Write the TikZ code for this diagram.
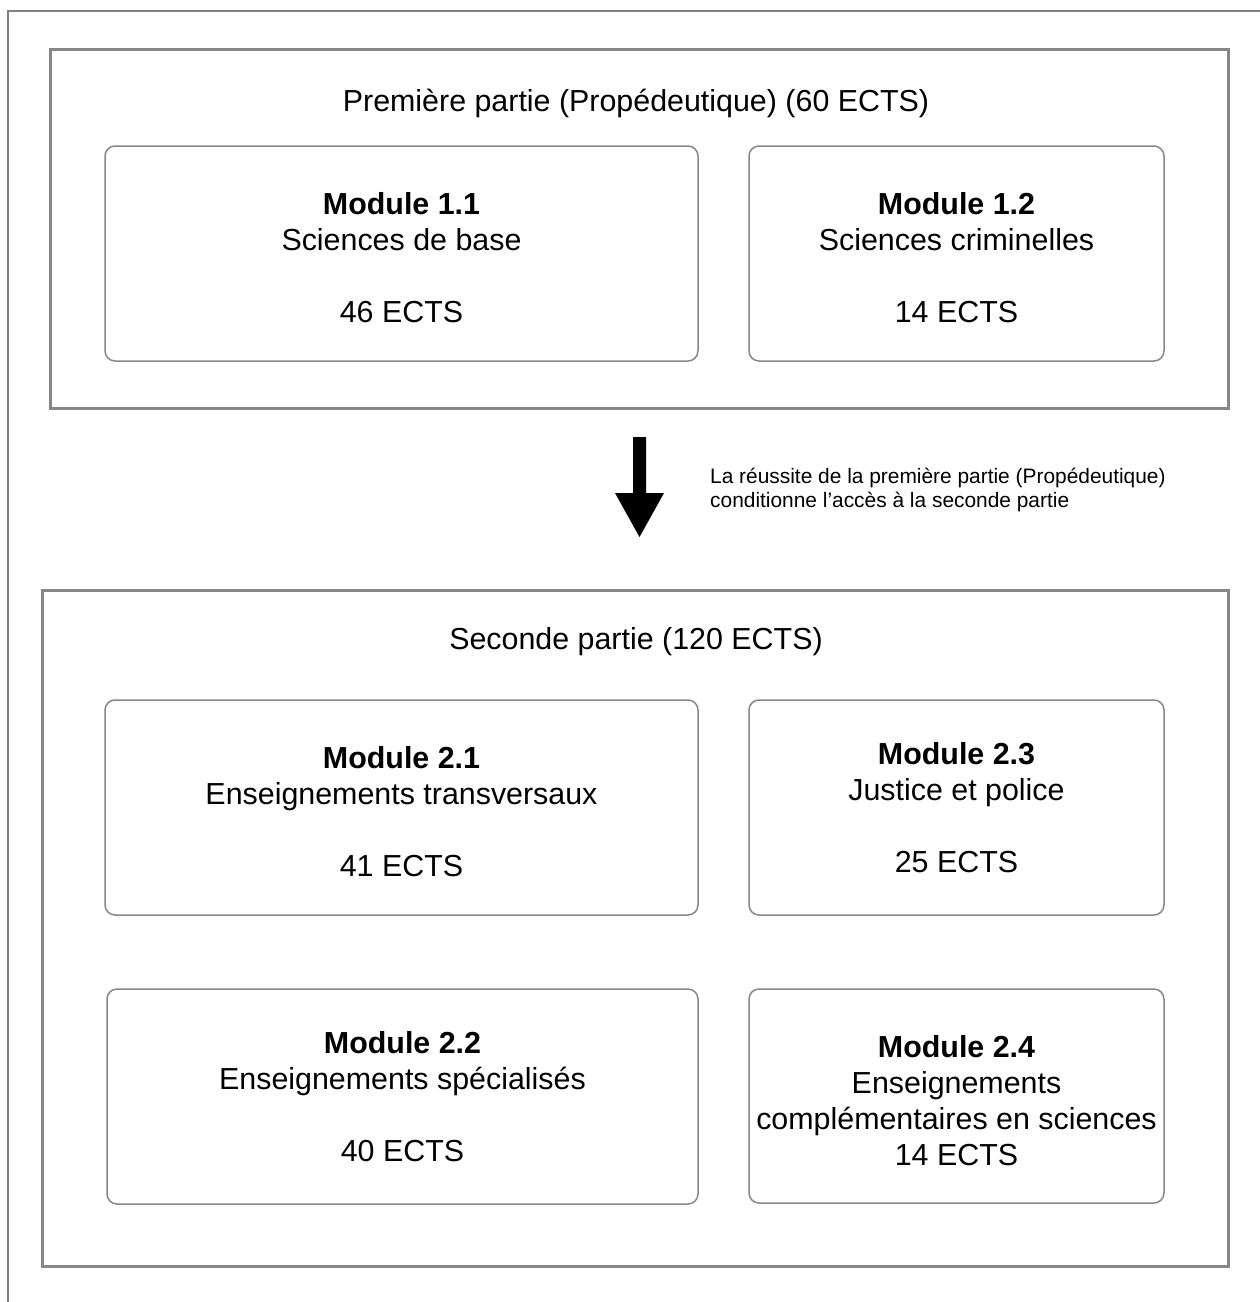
\documentclass[tikz,border=0pt]{standalone}
\usepackage{fontspec}
\setmainfont{Liberation Sans}
\begin{document}
\begin{tikzpicture}[x=1pt,y=-1pt,
  partbox/.style={draw=black!47, line width=3pt},
  modbox/.style={draw=black!47, line width=1.5pt, rounded corners=10pt},
  modtext/.style={align=center, inner sep=0pt, font=\fontsize{30.4}{36}\selectfont},
  titletext/.style={inner sep=0pt, font=\fontsize{30.4}{36}\selectfont},
  notetext/.style={align=left, inner sep=0pt, anchor=west, font=\fontsize{20.9}{23.5}\selectfont}]
\useasboundingbox (0,0) rectangle (1260,1302);
% outer frame (only top and left edges visible)
\draw[draw=black!50, line width=1.5pt] (8,1302) -- (8,11) -- (1260,11);
% part 1
\draw[partbox] (50,49) rectangle (1228,408);
\node[titletext] (t1) at (636,103) {Première partie (Propédeutique) (60 ECTS)};
\draw[modbox] (105,146) rectangle (698,361);
\node[modtext] (m11) at (401.5,258) {\textbf{Module 1.1}\\Sciences de base\\[36pt]46 ECTS};
\draw[modbox] (749,146) rectangle (1164,361);
\node[modtext] (m12) at (956.5,258) {\textbf{Module 1.2}\\Sciences criminelles\\[36pt]14 ECTS};
% arrow
\fill[black] (633,437) -- (646,437) -- (646,493) -- (664,493) -- (639.5,537) -- (615,493) -- (633,493) -- cycle;
\node[notetext] (note) at (710,490) {La réussite de la première partie (Propédeutique)\\conditionne l’accès à la seconde partie};
% part 2
\draw[partbox] (42,590) rectangle (1228,1266);
\node[titletext] (t2) at (636,642) {Seconde partie (120 ECTS)};
\draw[modbox] (105,700) rectangle (698,915);
\node[modtext] (m21) at (401.5,812) {\textbf{Module 2.1}\\Enseignements transversaux\\[36pt]41 ECTS};
\draw[modbox] (749,700) rectangle (1164,915);
\node[modtext] (m23) at (956.5,808) {\textbf{Module 2.3}\\Justice et police\\[36pt]25 ECTS};
\draw[modbox] (107,989) rectangle (698,1204);
\node[modtext] (m22) at (402.5,1097) {\textbf{Module 2.2}\\Enseignements spécialisés\\[36pt]40 ECTS};
\draw[modbox] (749,989) rectangle (1164,1203);
\node[modtext] (m24) at (956.5,1101) {\textbf{Module 2.4}\\Enseignements\\complémentaires en sciences\\14 ECTS};
\end{tikzpicture}
\end{document}
